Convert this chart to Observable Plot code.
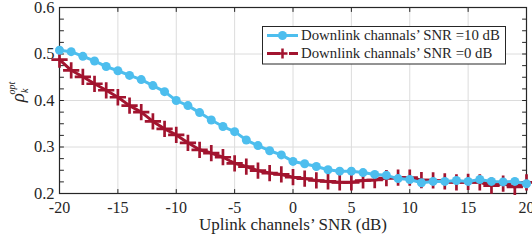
<!DOCTYPE html>
<html>
<head>
<meta charset="utf-8">
<script src="https://cdn.jsdelivr.net/npm/d3@7"></script>
<script src="https://cdn.jsdelivr.net/npm/@observablehq/plot@0.6"></script>
<style>
  html, body { margin: 0; padding: 0; background: #fff; }
  #chart svg { display: block; }
  #chart svg, #chart svg text { font-family: "Liberation Serif", "Times New Roman", serif !important; }
</style>
</head>
<body>
<div id="chart"></div>
<script>
const snr = d3.range(-20, 21); // -20 ... 20 dB, step 1
const rho10 = [0.508, 0.505, 0.495, 0.485, 0.473, 0.464, 0.454, 0.445, 0.432, 0.419,
               0.400, 0.389, 0.374, 0.358, 0.344, 0.333, 0.315, 0.303, 0.292, 0.283,
               0.269, 0.264, 0.258, 0.251, 0.248, 0.248, 0.245, 0.241, 0.239, 0.232,
               0.230, 0.223, 0.226, 0.226, 0.228, 0.226, 0.230, 0.226, 0.225, 0.226, 0.221];
const rho0  = [0.488, 0.465, 0.451, 0.436, 0.422, 0.407, 0.389, 0.375, 0.355, 0.339,
               0.326, 0.309, 0.294, 0.287, 0.278, 0.265, 0.258, 0.249, 0.244, 0.241,
               0.235, 0.232, 0.228, 0.226, 0.224, 0.224, 0.228, 0.229, 0.233, 0.234,
               0.234, 0.229, 0.228, 0.226, 0.224, 0.225, 0.224, 0.217, 0.221, 0.214, 0.224];
const xTicks = [-20, -15, -10, -5, 0, 5, 10, 15, 20];
const yTicks = [0.2, 0.3, 0.4, 0.5, 0.6];
const yMinor = d3.range(0, 17).map(i => +(0.2 + i * 0.025).toFixed(3));
const seriesNames = ["Downlink channals’ SNR =10 dB", "Downlink channals’ SNR =0 dB"];
const colors = ["#4DBEEE", "#A2142F"];

const d10 = snr.map((x, i) => ({x, y: rho10[i]}));
const d0 = snr.map((x, i) => ({x, y: rho0[i]}));

const tickShape = {draw(ctx, l) { ctx.moveTo(0, 0); ctx.lineTo(0, -l); }};
const axisColor = "#262626";
const font = "'Liberation Serif', 'Times New Roman', serif";

const chart = Plot.plot({
  width: 532, height: 241,
  marginLeft: 59, marginRight: 6, marginTop: 7, marginBottom: 48,
  style: {fontFamily: font, fontSize: "16px", color: axisColor, background: "#fff"},
  x: {domain: [-20, 20]},
  y: {domain: [0.2, 0.6]},
  marks: [
    Plot.gridX(xTicks, {stroke: "#dcdcdc", strokeOpacity: 1, strokeWidth: 1}),
    Plot.gridY(yTicks, {stroke: "#dcdcdc", strokeOpacity: 1, strokeWidth: 1}),
    Plot.vector(yMinor, {x: -20, y: d => d, rotate: 90, anchor: "start", length: 4, shape: tickShape, stroke: axisColor, strokeWidth: 1}),
    Plot.vector(yMinor, {x: 20, y: d => d, rotate: -90, anchor: "start", length: 4, shape: tickShape, stroke: axisColor, strokeWidth: 1}),
    Plot.vector(xTicks, {x: d => d, y: 0.2, rotate: 0, anchor: "start", length: 4, shape: tickShape, stroke: axisColor, strokeWidth: 1}),
    Plot.vector(xTicks, {x: d => d, y: 0.6, rotate: 180, anchor: "start", length: 4, shape: tickShape, stroke: axisColor, strokeWidth: 1}),
    Plot.axisX(xTicks, {tickSize: 0, tickPadding: 8, tickFormat: d => d < 0 ? "-" + (-d) : String(d), fontSize: 16,
      label: null}),
    Plot.axisX({tickSize: 0, ticks: [], label: "Uplink channels’ SNR (dB)", labelAnchor: "center", labelArrow: "none", labelOffset: 36, fontSize: 17}),
    Plot.axisY(yTicks, {tickSize: 0, tickPadding: 5, tickFormat: d3.format(".1f"), label: null, fontSize: 16.5}),
    Plot.frame({stroke: axisColor, strokeWidth: 1.2}),
    Plot.line(d0, {x: "x", y: "y", stroke: colors[1], strokeWidth: 3}),
    Plot.dot(d0, {x: "x", y: "y", symbol: "plus", r: 5.3, stroke: colors[1], strokeWidth: 2.7}),
    Plot.line(d10, {x: "x", y: "y", stroke: colors[0], strokeWidth: 3}),
    Plot.dot(d10, {x: "x", y: "y", r: 4.5, fill: colors[0], stroke: "none"})
  ]
});

document.getElementById("chart").appendChild(chart);

const svg = d3.select(chart);

// y-axis label: rho_k^opt
const yl = svg.append("text")
  .attr("transform", "translate(24,92) rotate(-90)")
  .attr("text-anchor", "middle")
  .attr("fill", axisColor)
  .style("font-style", "italic");
yl.append("tspan").attr("font-size", 19).text("ρ");
yl.append("tspan").attr("font-size", 10).attr("dy", 4).text("k");
yl.append("tspan").attr("font-size", 10).attr("dy", -13).attr("dx", -6).text("opt");

// legend
const lg = svg.append("g").style("font-size", "14.8px").attr("text-anchor", "start");
lg.append("rect").attr("x", 262.5).attr("y", 26.5).attr("width", 243).attr("height", 37.5)
  .attr("fill", "#fff").attr("stroke", axisColor).attr("stroke-width", 1);
const rows = [35.5, 53.5];
lg.append("line").attr("x1", 267).attr("x2", 298).attr("y1", rows[0]).attr("y2", rows[0])
  .attr("stroke", colors[0]).attr("stroke-width", 3);
lg.append("circle").attr("cx", 282.5).attr("cy", rows[0]).attr("r", 4.5).attr("fill", colors[0]);
lg.append("line").attr("x1", 267).attr("x2", 298).attr("y1", rows[1]).attr("y2", rows[1])
  .attr("stroke", colors[1]).attr("stroke-width", 3).attr("stroke-dasharray", "13,9,9");
lg.append("path").attr("d", `M${282.5 - 5},${rows[1]}h10M282.5,${rows[1] - 5}v10`)
  .attr("stroke", colors[1]).attr("stroke-width", 2.5);
seriesNames.forEach((t, i) => {
  lg.append("text").attr("x", 301).attr("y", rows[i]).attr("dy", "0.33em")
    .attr("text-anchor", "start").attr("fill", axisColor).text(t);
});
</script>
</body>
</html>
